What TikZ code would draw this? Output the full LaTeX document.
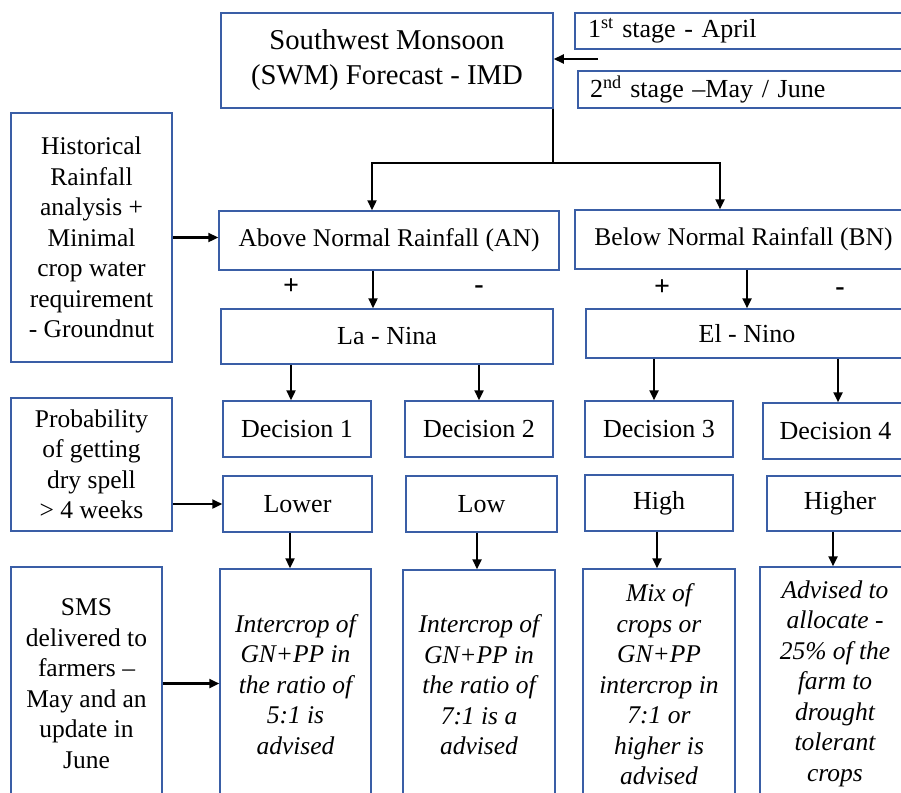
\documentclass[tikz,border=0pt]{standalone}
\usepackage{fontspec}
\setmainfont{LiberationSerif}[Extension=.ttf, UprightFont=*-Regular, ItalicFont=*-Italic, BoldFont=*-Bold, BoldItalicFont=*-BoldItalic]
\usetikzlibrary{arrows.meta}
\definecolor{boxblue}{RGB}{58,94,166}
\begin{document}
\begin{tikzpicture}[x=1pt,y=-1pt,
  box/.style={draw=boxblue, line width=1.5pt, inner sep=0pt, align=center, font=\fontsize{26}{30.5}\selectfont},
  small/.style={font=\fontsize{25.5}{30.5}\selectfont},
  ital/.style={font=\fontsize{25.5}{30.5}\selectfont\itshape},
  arr/.style={line width=2.3pt, -{Triangle[length=10pt,width=9pt]}},
  ln/.style={line width=2.3pt},
  sign/.style={font=\fontsize{28}{30}\selectfont\bfseries, inner sep=0pt}]
\clip (0,0) rectangle (901,792);
% top
\node[box, minimum width=332pt, minimum height=95pt, font=\fontsize{28.7}{35}\selectfont] (swm) at (387,60.5) {Southwest Monsoon\\(SWM) Forecast - IMD};
\node[box, minimum height=36pt, text width=309pt, align=left, inner xsep=13pt] (st1) at (742.5,31) {1\textsuperscript{st} stage - April};
\node[box, minimum height=37pt, text width=308pt, align=left, inner xsep=12pt] (st2) at (744,89.5) {2\textsuperscript{nd} stage --May / June};
\coordinate (stin) at (598,59);
\draw[arr] (stin) -- (stin -| swm.east);
% rainfall
\node[box, small, minimum width=161pt, minimum height=249pt] (hist) at (91.5,237.5) {Historical\\Rainfall\\analysis +\\Minimal\\crop water\\requirement\\- Groundnut};
\node[box, small, minimum width=340pt, minimum height=59pt] (an) at (389,240.5) {Above Normal Rainfall (AN)};
\node[box, small, minimum width=337pt, minimum height=59pt] (bn) at (743.5,239.5) {Below Normal Rainfall (BN)};
\coordinate (split) at (553,163);
\coordinate (jL) at (372,163);
\coordinate (jR) at (720,163);
\draw[ln] (split |- swm.south) -- (split);
\draw[ln, line cap=rect] (jL) -- (jR);
\draw[arr] (jL) -- (jL |- an.north);
\draw[arr] (jR) -- (jR |- bn.north);
\draw[arr] (hist.east) -- (hist.east -| an.west);
% la nina / el nino
\node[box, minimum width=332pt, minimum height=55pt] (lanina) at (387,336.5) {La - Nina};
\node[box, minimum width=322pt, minimum height=49pt] (elnino) at (747,333.5) {El - Nino};
\node[sign] (p1) at (291,287) {+};
\node[sign] (m1) at (479,290) {-};
\node[sign] (p2) at (662,288) {+};
\node[sign] (m2) at (840,292) {-};
\draw[arr] ([xshift=-16pt]an.south) -- ([xshift=-16pt]an.south |- lanina.north);
\draw[arr] (bn.south -| elnino.north) -- (elnino.north);
% decisions
\node[box, minimum width=148pt, minimum height=56pt] (d1) at (297,429) {Decision 1};
\node[box, minimum width=148pt, minimum height=56pt] (d2) at (479,429) {Decision 2};
\node[box, minimum width=148pt, minimum height=56pt] (d3) at (659,429) {Decision 3};
\node[box, minimum width=145pt, minimum height=56pt] (d4) at (835.5,431) {Decision 4};
\draw[arr] ([xshift=-6pt]d1.north |- lanina.south) -- ([xshift=-6pt]d1.north);
\draw[arr] (d2.north |- lanina.south) -- (d2.north);
\draw[arr] ([xshift=-5pt]d3.north |- elnino.south) -- ([xshift=-5pt]d3.north);
\draw[arr] ([xshift=2.5pt]d4.north |- elnino.south) -- ([xshift=2.5pt]d4.north);
% probability
\node[box, small, minimum width=161pt, minimum height=133pt] (prob) at (91.5,464.5) {Probability\\of getting\\dry spell\\> 4 weeks};
\node[box, minimum width=149pt, minimum height=56pt] (lower) at (297.5,504) {Lower};
\node[box, minimum width=151pt, minimum height=56pt] (low) at (481.5,504) {Low};
\node[box, minimum width=148pt, minimum height=56pt] (high) at (659,503) {High};
\node[box, minimum width=146pt, minimum height=55pt] (higher) at (840,503.5) {Higher};
\draw[arr] (prob.east |- lower.west) -- (lower.west);
% bottom row
\node[box, small, minimum width=151pt, minimum height=233pt] (sms) at (86.5,683.5) {SMS\\delivered to\\farmers --\\May and an\\update in\\June};
\node[box, ital, minimum width=151pt, minimum height=231pt] (b1) at (295.5,684.5) {Intercrop of\\GN+PP in\\the ratio of\\5:1 is\\advised};
\node[box, ital, minimum width=152pt, minimum height=230pt] (b2) at (479,685) {Intercrop of\\GN+PP in\\the ratio of\\7:1 is a\\advised};
\node[box, ital, minimum width=152pt, minimum height=231pt] (b3) at (659,684.5) {Mix of\\crops or\\GN+PP\\intercrop in\\7:1 or\\higher is\\advised};
\node[box, ital, minimum width=150pt, minimum height=233pt] (b4) at (835,683.5) {Advised to\\allocate -\\25\% of the\\farm to\\drought\\tolerant\\crops};
\draw[arr] ([xshift=-7.5pt]lower.south) -- ([xshift=-7.5pt]lower.south |- b1.north);
\draw[arr] ([xshift=-4.5pt]low.south) -- ([xshift=-4.5pt]low.south |- b2.north);
\draw[arr] ([xshift=-2pt]high.south) -- ([xshift=-2pt]high.south |- b3.north);
\draw[arr] ([xshift=-7pt]higher.south) -- ([xshift=-7pt]higher.south |- b4.north);
\draw[arr] (sms.east) -- (sms.east -| b1.west);
\end{tikzpicture}
\end{document}
